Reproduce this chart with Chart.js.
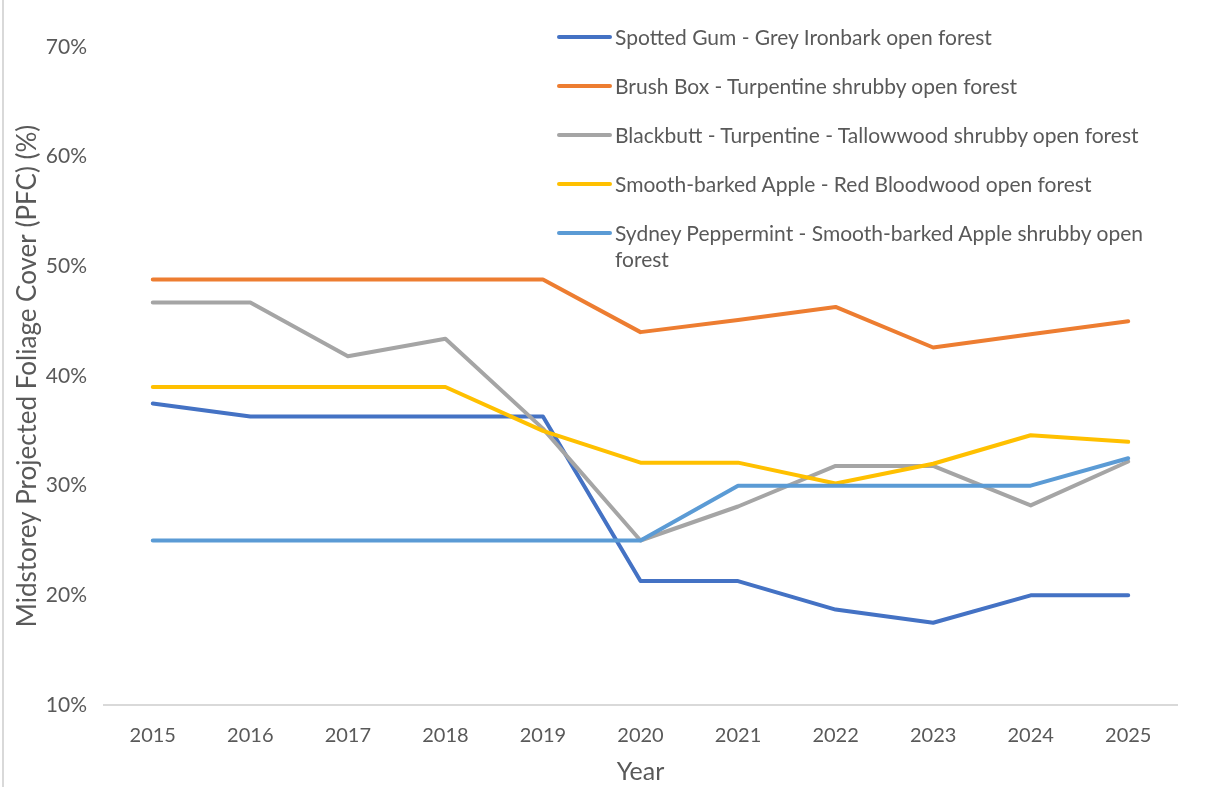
<!DOCTYPE html>
<html>
<head>
<meta charset="utf-8">
<script src="https://cdn.jsdelivr.net/npm/chart.js@4.4.1/dist/chart.umd.min.js"></script>
<style>
body{margin:0;background:#fff;}
#wrap{position:relative;width:1208px;height:787px;}
#frame{position:absolute;left:2px;top:0;width:2px;height:787px;background:#D9D9D9;}
#legend{position:absolute;left:557px;top:24px;font-family:Lato,sans-serif;font-size:21px;color:#595959;}
.item{display:flex;align-items:flex-start;height:49px;}
.swatch{width:55px;height:4px;margin-top:11px;border-radius:2px;flex:none;}
.txt{width:545px;line-height:26px;padding-left:3px;}
</style>
</head>
<body>
<div id="wrap">
<canvas id="lineChart" width="1208" height="787"></canvas>
<div id="frame"></div>
<div id="legend"></div>
</div>
<script>
var years = ['2015','2016','2017','2018','2019','2020','2021','2022','2023','2024','2025'];
var seriesNames = [
	'Spotted Gum - Grey Ironbark open forest',
	'Brush Box - Turpentine shrubby open forest',
	'Blackbutt - Turpentine - Tallowwood shrubby open forest',
	'Smooth-barked Apple - Red Bloodwood open forest',
	'Sydney Peppermint - Smooth-barked Apple shrubby open forest'
];
var spottedGum  = [37.5, 36.3, 36.3, 36.3, 36.3, 21.3, 21.3, 18.7, 17.5, 20.0, 20.0];
var brushBox    = [48.8, 48.8, 48.8, 48.8, 48.8, 44.0, 45.1, 46.3, 42.6, 43.8, 45.0];
var blackbutt   = [46.7, 46.7, 41.8, 43.4, 35.2, 25.0, 28.1, 31.8, 31.8, 28.2, 32.2];
var smoothApple = [39.0, 39.0, 39.0, 39.0, 35.0, 32.1, 32.1, 30.2, 32.0, 34.6, 34.0];
var sydneyPep   = [25.0, 25.0, 25.0, 25.0, 25.0, 25.0, 30.0, 30.0, 30.0, 30.0, 32.5];
var yTicks = [10, 20, 30, 40, 50, 60, 70];

var colors = ['#4472C4','#ED7D31','#A5A5A5','#FFC000','#5B9BD5'];
var values = [spottedGum, brushBox, blackbutt, smoothApple, sydneyPep];

var datasets = [];
for(var i=0;i<values.length;i++){
	datasets.push({
		label: seriesNames[i],
		data: values[i],
		borderColor: colors[i],
		backgroundColor: colors[i],
		borderWidth: 4,
		pointRadius: 0,
		tension: 0,
		borderCapStyle: 'round',
		borderJoinStyle: 'round',
		order: values.length - i
	});
}

// legend inside the plot, top right
var legendHtml = '';
for(var i=0;i<datasets.length;i++){
	legendHtml += '<div class="item"><span class="swatch" style="background:'+colors[i]+'"></span><span class="txt">'+seriesNames[i]+'</span></div>';
}
document.getElementById('legend').innerHTML = legendHtml;

var fontFam = 'Lato, sans-serif';
var ctx = document.getElementById('lineChart');
var myChart = new Chart(ctx, {
	type: 'line',
	data: {
		labels: years,
		datasets: datasets
	},
	options: {
		responsive: false,
		animation: false,
		layout: { padding: { left: 8, right: 31, top: 47, bottom: 0 } },
		plugins: {
			legend: { display: false },
			tooltip: { enabled: false }
		},
		scales: {
			x: {
				offset: true,
				grid: { display: false, drawTicks: false },
				border: { display: true, color: '#D9D9D9', width: 2 },
				ticks: { color: '#595959', font: { family: fontFam, size: 20 }, padding: 19 },
				title: { display: true, text: 'Year', color: '#595959', font: { family: fontFam, size: 25 }, padding: { top: 0, bottom: 0 } },
				afterFit: function(scale){ scale.height = 82; }
			},
			y: {
				min: 10,
				max: 70,
				afterBuildTicks: function(scale){
					scale.ticks = yTicks.map(function(v){ return { value: v }; });
				},
				grid: { display: false, drawTicks: false },
				border: { display: false },
				ticks: {
					color: '#595959',
					font: { family: fontFam, size: 21 },
					padding: 17,
					callback: function(v){ return v + '%'; }
				},
				title: { display: true, text: 'Midstorey Projected Foliage Cover (PFC) (%)', color: '#595959', font: { family: fontFam, size: 26 }, padding: { top: 4, bottom: 0 } },
				afterFit: function(scale){ scale.width = 96; }
			}
		}
	}
});
</script>
</body>
</html>
